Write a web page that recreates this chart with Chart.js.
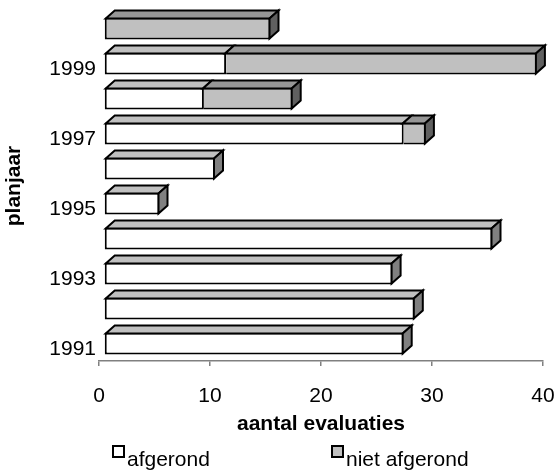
<!DOCTYPE html>
<html>
<head>
<meta charset="utf-8">
<script src="https://cdn.jsdelivr.net/npm/chart.js@4.4.1/dist/chart.umd.min.js"></script>
<style>
  html, body { margin: 0; padding: 0; background: #fff; }
  #wrap { position: relative; width: 558px; height: 472px; }
  #legend { position: absolute; left: 0; top: 0; width: 558px; height: 472px; pointer-events: none;
            font-family: "Liberation Sans", Arial, sans-serif; font-size: 21px; color: #000; }
  #legend .item { position: absolute; top: 448px; line-height: 21px; white-space: nowrap; }
  #legend .box { position: absolute; left: 0; top: -3px; width: 9px; height: 9px; border: 2px solid #000; }
  #legend .txt { position: absolute; left: 15px; top: 0; }
</style>
</head>
<body>
<div id="wrap">
  <canvas id="chart" width="558" height="472"></canvas>
  <div id="legend"></div>
</div>
<script>
const planjaren = ['1991', '1992', '1993', '1994', '1995', '1996', '1997', '1998', '1999', '2000'];
const afgerond = [27, 28, 26, 35, 5, 10, 27, 9, 11, 0];
const nietAfgerond = [0, 0, 0, 0, 0, 0, 2, 8, 28, 15];
const reeksen = ['afgerond', 'niet afgerond'];
const xTicks = [0, 10, 20, 30, 40];

const frontColors = ['#ffffff', '#c0c0c0'];
const topColors = ['#c0c0c0', '#969696'];
const sideColors = ['#808080', '#606060'];
const depthX = 9, depthY = 8, shiftX = 5;
const font = '"Liberation Sans", Arial, sans-serif';

// 3D look: bars sit a little behind the axis, with a top and a side face
const bar3d = {
  id: 'bar3d',
  beforeDatasetsDraw(chart) {
    chart.ctx.save();
    chart.ctx.translate(shiftX, 0);
  },
  afterDatasetsDraw(chart) {
    const ctx = chart.ctx;
    const sets = chart.data.datasets;
    ctx.lineWidth = 2;
    ctx.strokeStyle = '#000';
    ctx.lineJoin = 'miter';
    sets.forEach((ds, di) => {
      chart.getDatasetMeta(di).data.forEach((bar, i) => {
        if (!ds.data[i]) return;
        const p = bar.getProps(['x', 'y', 'base', 'height'], true);
        const afterPrev = di > 0 && sets.slice(0, di).some(d => d.data[i]);
        const L = Math.min(p.x, p.base) + (afterPrev ? -1 : 1);
        const R = Math.max(p.x, p.base) - 1;
        const T = p.y - p.height / 2 + 1;
        const B = p.y + p.height / 2 - 1;
        ctx.beginPath();
        ctx.moveTo(L, T);
        ctx.lineTo(L + depthX, T - depthY);
        ctx.lineTo(R + depthX, T - depthY);
        ctx.lineTo(R, T);
        ctx.closePath();
        ctx.fillStyle = topColors[di];
        ctx.fill();
        ctx.stroke();
        const isEnd = sets.slice(di + 1).every(d => !d.data[i]);
        if (isEnd) {
          ctx.beginPath();
          ctx.moveTo(R, T);
          ctx.lineTo(R + depthX, T - depthY);
          ctx.lineTo(R + depthX, B - depthY);
          ctx.lineTo(R, B);
          ctx.closePath();
          ctx.fillStyle = sideColors[di];
          ctx.fill();
          ctx.stroke();
        }
      });
    });
    ctx.restore();
  }
};

new Chart(document.getElementById('chart'), {
  type: 'bar',
  data: {
    labels: planjaren,
    datasets: [
      { label: reeksen[0], data: afgerond, backgroundColor: frontColors[0], borderColor: '#000',
        borderWidth: 2, borderSkipped: false, inflateAmount: 0, barThickness: 22 },
      { label: reeksen[1], data: nietAfgerond, backgroundColor: frontColors[1], borderColor: '#000',
        borderWidth: 2, inflateAmount: 0, barThickness: 22,
        borderSkipped: c => afgerond[c.dataIndex] > 0 ? 'start' : false }
    ]
  },
  options: {
    indexAxis: 'y',
    responsive: false,
    animation: false,
    layout: { padding: { left: 0, top: 11, right: 15, bottom: 35 } },
    scales: {
      x: {
        stacked: true,
        min: xTicks[0],
        max: xTicks[xTicks.length - 1],
        afterBuildTicks: s => { s.ticks = xTicks.map(v => ({ value: v })); },
        afterFit: s => { s.height = 76; s.paddingLeft = 0; s.paddingRight = 0; },
        ticks: { color: '#000', font: { family: font, size: 21 }, padding: 18 },
        grid: { drawOnChartArea: false, drawTicks: true, tickLength: 5, color: '#808080', lineWidth: 1.5 },
        border: { color: '#808080', width: 1.5 },
        title: { display: true, text: 'aantal evaluaties', color: '#000',
                 font: { family: font, size: 21, weight: 'bold' }, padding: { top: 0, bottom: 0 } }
      },
      y: {
        stacked: true,
        reverse: true,
        afterFit: s => { s.width = 99; s.paddingTop = 0; s.paddingBottom = 0; },
        grid: { display: false, drawTicks: false },
        border: { display: false },
        ticks: {
          color: '#000', font: { family: font, size: 21 }, padding: 3, labelOffset: 6, autoSkip: false,
          callback: function (v, i) { return i % 2 === 0 ? this.getLabelForValue(v) : ''; }
        },
        title: { display: true, text: 'planjaar', color: '#000',
                 font: { family: font, size: 21, weight: 'bold' }, padding: { top: 2, bottom: 0 } }
      }
    },
    plugins: {
      legend: { display: false },
      tooltip: { enabled: false }
    }
  },
  plugins: [bar3d]
});

// legend below the chart
const legendLeft = [112, 331];
const legend = document.getElementById('legend');
reeksen.forEach((naam, k) => {
  const item = document.createElement('div');
  item.className = 'item';
  item.style.left = legendLeft[k] + 'px';
  item.innerHTML = '<span class="box" style="background:' + frontColors[k] + '"></span><span class="txt"></span>';
  item.querySelector('.txt').textContent = naam;
  legend.appendChild(item);
});
</script>
</body>
</html>
